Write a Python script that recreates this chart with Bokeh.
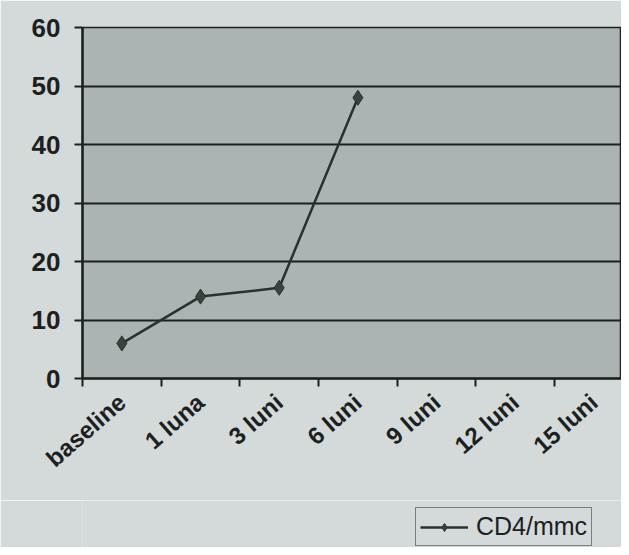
from bokeh.plotting import figure
from bokeh.layouts import column
from bokeh.models import (Range1d, FixedTicker, Legend, LegendItem, ColumnDataSource)
from bokeh.embed import file_html
from bokeh.resources import INLINE

categories = ["baseline", "1 luna", "3 luni", "6 luni", "9 luni", "12 luni", "15 luni"]
measured = ["baseline", "1 luna", "3 luni", "6 luni"]
cd4_values = [6, 14, 15.5, 48]
y_ticks = [0, 10, 20, 30, 40, 50, 60]
series_name = "CD4/mmc"

PAGE = "#d4dada"
PLOT = "#abb3b3"
INK = "#1c201f"
LINE = "#2a302e"
MARK = "#3a423f"
FONT = "Liberation Sans"

pos = {c: i + 0.5 for i, c in enumerate(categories)}
src = ColumnDataSource(dict(x=[pos[c] for c in measured], y=cd4_values))

p = figure(width=621, height=500, output_backend="svg", toolbar_location=None,
           x_range=Range1d(0, 6.85), y_range=Range1d(0, 60),
           min_border_left=82, min_border_right=0, min_border_top=27, min_border_bottom=122,
           background_fill_color=PLOT, border_fill_color=PAGE,
           outline_line_color=INK, outline_line_width=1.5)

ln = p.line("x", "y", source=src, line_color=LINE, line_width=2.5)
sc = p.scatter("x", "y", source=src, marker="diamond", size=15,
               fill_color=MARK, line_color=LINE, line_width=1)

xa = p.xaxis[0]
xa.ticker = FixedTicker(ticks=[pos[c] for c in categories],
                        minor_ticks=list(range(len(categories) + 1)))
xa.major_label_overrides = {pos[c]: c for c in categories}
xa.major_label_orientation = 0.72
xa.major_tick_out = 0
xa.major_tick_in = 0
xa.minor_tick_out = 8
xa.minor_tick_in = 0
xa.minor_tick_line_color = INK
xa.minor_tick_line_width = 2
xa.axis_line_color = INK
xa.axis_line_width = 2.5
xa.major_label_text_font = FONT
xa.major_label_text_font_style = "bold"
xa.major_label_text_font_size = "24px"
xa.major_label_text_color = INK
xa.major_label_standoff = 12

ya = p.yaxis[0]
ya.ticker = FixedTicker(ticks=y_ticks)
ya.minor_tick_line_color = None
ya.major_tick_out = 8
ya.major_tick_in = 0
ya.major_tick_line_color = INK
ya.major_tick_line_width = 2
ya.axis_line_color = INK
ya.axis_line_width = 2.5
ya.major_label_text_font = FONT
ya.major_label_text_font_style = "bold"
ya.major_label_text_font_size = "26px"
ya.major_label_text_color = INK
ya.major_label_standoff = 14

p.xgrid.grid_line_color = None
p.ygrid.ticker = FixedTicker(ticks=y_ticks)
p.ygrid.grid_line_color = INK
p.ygrid.grid_line_width = 2.2

# strip below the chart holding the legend (series drawn off-range, legend only)
q = figure(width=621, height=47, output_backend="svg", toolbar_location=None,
           x_range=p.x_range, y_range=Range1d(-2, -1),
           x_axis_type=None, y_axis_type=None,
           min_border_left=82, min_border_right=0, min_border_top=0, min_border_bottom=0,
           background_fill_color=PAGE, border_fill_color=PAGE,
           outline_line_color=None)
q.grid.visible = False
lln = q.line("x", "y", source=src, line_color=LINE, line_width=2.5)
lsc = q.scatter("x", "y", source=src, marker="diamond", size=13,
                fill_color=MARK, line_color=LINE, line_width=1)
legend = Legend(items=[LegendItem(label=series_name, renderers=[lln, lsc])],
                location=(333, 1), orientation="horizontal",
                label_text_font=FONT, label_text_font_size="25px",
                label_text_color=INK,
                background_fill_color=PAGE, background_fill_alpha=1,
                border_line_color=INK, border_line_width=1.5,
                glyph_width=48, glyph_height=20, padding=4, margin=0,
                label_standoff=8)
q.add_layout(legend, "center")

layout = column(p, q, spacing=0)
open("out.html", "w").write(file_html(layout, INLINE))
